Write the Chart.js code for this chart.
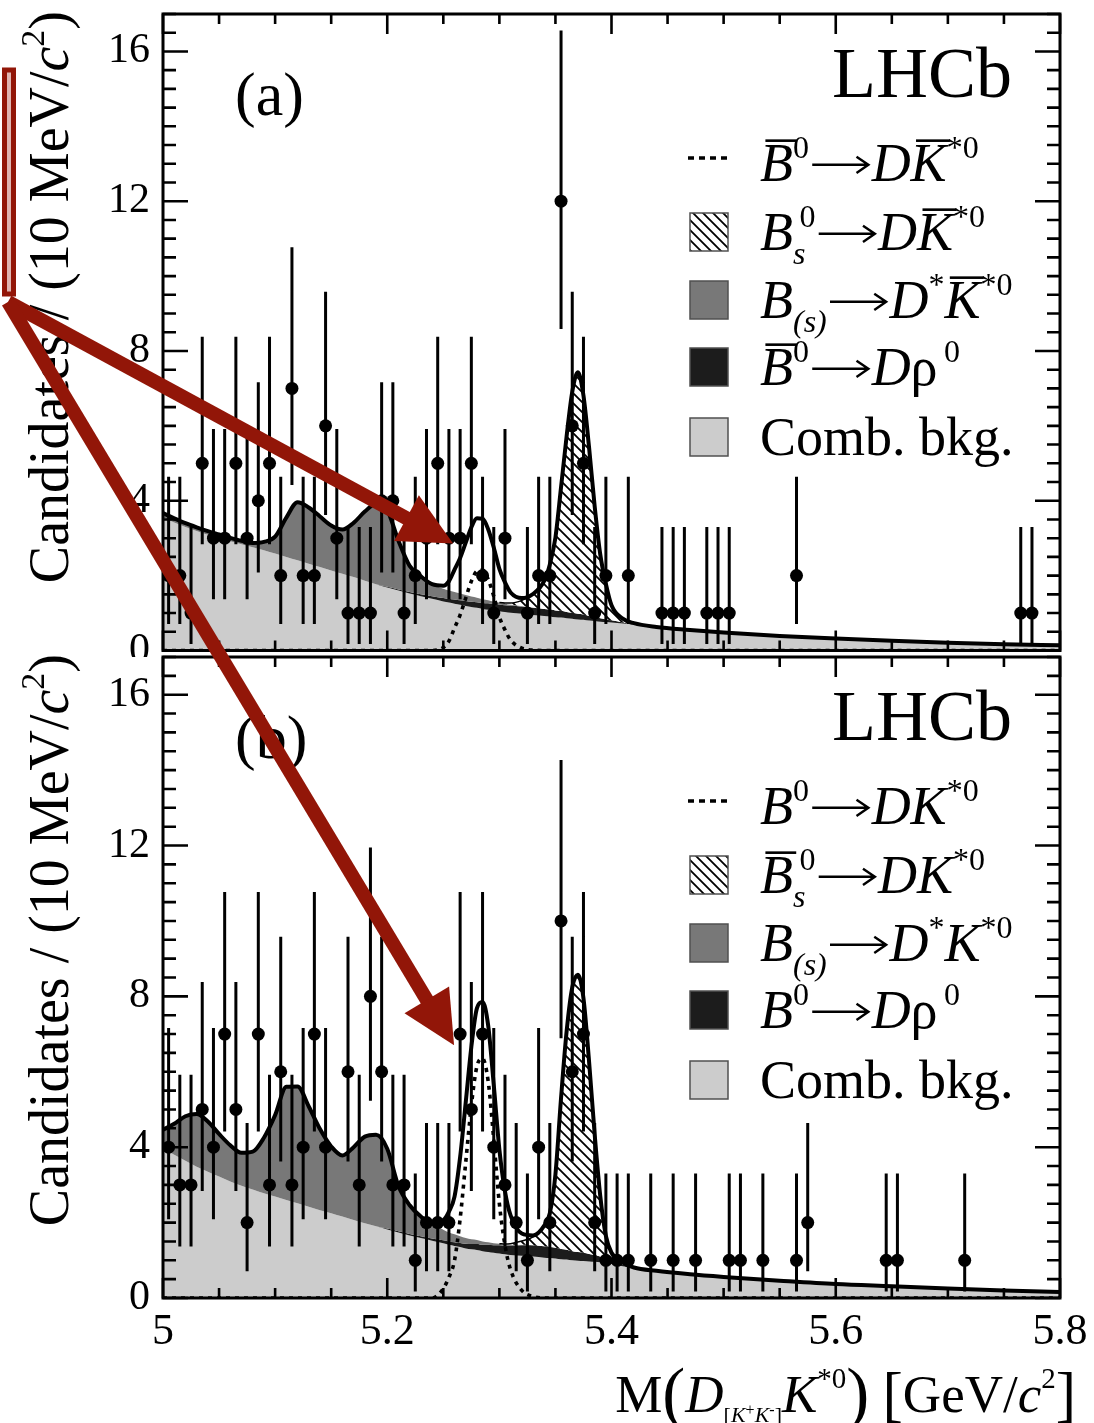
<!DOCTYPE html>
<html>
<head>
<meta charset="utf-8">
<title>M(D K*0) fit - LHCb</title>
<script src="https://cdn.jsdelivr.net/npm/chart.js@4.4.1/dist/chart.umd.min.js"></script>
<style>
    html, body { margin: 0; padding: 0; background: #fff; }
    #page { position: relative; width: 1094px; height: 1423px; overflow: hidden; background: #fff; }
    #page canvas { position: absolute; left: 0; }
    #chartA { top: 0; }
    #chartB { top: 640px; }
    #overlay { top: 0; pointer-events: none; }
</style>
</head>
<body>
<div id="page">
    <canvas id="chartA" width="1094" height="657"></canvas>
    <canvas id="chartB" width="1094" height="783"></canvas>
    <canvas id="overlay" width="1094" height="1423"></canvas>
</div>
<script>
// Histogram binning (10 MeV/c^2 bins from 5.0 GeV/c^2)
const binStart = 5.0;
const binWidth = 0.01;

// Candidates per bin (80 bins)
const countsA = [
    2, 2, 1, 5, 3, 3, 5, 3, 4, 5,
    2, 7, 2, 2, 6, 3, 1, 1, 1, 4,
    4, 1, 2, 3, 5, 3, 3, 5, 2, 1,
    3, 0, 1, 2, 2, 12, 6, 5, 1, 2,
    0, 2, 0, 0, 1, 1, 1, 0, 1, 1,
    1, 0, 0, 0, 0, 0, 2, 0, 0, 0,
    0, 0, 0, 0, 0, 0, 0, 0, 0, 0,
    0, 0, 0, 0, 0, 0, 1, 1, 0, 0
];
const countsB = [
    4, 3, 3, 5, 4, 7, 5, 2, 7, 3,
    6, 3, 4, 7, 4, 0, 6, 3, 8, 6,
    3, 3, 1, 2, 2, 2, 7, 5, 7, 4,
    3, 2, 1, 4, 2, 10, 6, 7, 2, 1,
    1, 1, 0, 1, 0, 1, 0, 1, 0, 0,
    1, 1, 0, 1, 0, 0, 1, 2, 0, 0,
    0, 0, 0, 0, 1, 1, 0, 0, 0, 0,
    0, 1, 0, 0, 0, 0, 0, 0, 0, 0
];

// Poisson error bar ends, indexed by count
const errLow = [0, 0.173, 0.708, 1.367, 2.086, 2.840, 3.620, 4.419, 5.232, 6.057, 6.891, 7.734, 8.585];
const errHigh = [0, 3.300, 4.638, 5.918, 7.163, 8.382, 9.584, 10.77, 11.95, 13.11, 14.27, 15.42, 16.56];

// Masses at which the fit components were read
const massGrid = [
    5.00, 5.01, 5.02, 5.03, 5.04, 5.05, 5.06, 5.07, 5.08, 5.09,
    5.10, 5.11, 5.12, 5.13, 5.14, 5.15, 5.16, 5.17, 5.18, 5.19,
    5.20, 5.21, 5.22, 5.23, 5.24, 5.25, 5.255, 5.26, 5.265, 5.27,
    5.275, 5.28, 5.285, 5.29, 5.295, 5.30, 5.305, 5.31, 5.32, 5.33,
    5.34, 5.345, 5.35, 5.355, 5.36, 5.365, 5.37, 5.375, 5.38, 5.385,
    5.39, 5.395, 5.40, 5.41, 5.42, 5.44, 5.47, 5.50, 5.55, 5.60,
    5.65, 5.70, 5.75, 5.80
];

// Panel (a) components
const combA = [
    3.55, 3.42, 3.30, 3.19, 3.09, 3.00, 2.92, 2.84, 2.76, 2.68,
    2.59, 2.50, 2.41, 2.32, 2.23, 2.14, 2.05, 1.96, 1.86, 1.77,
    1.68, 1.60, 1.52, 1.45, 1.38, 1.31, 1.28, 1.25, 1.22, 1.19,
    1.16, 1.14, 1.11, 1.09, 1.07, 1.05, 1.03, 1.01, 0.98, 0.95,
    0.92, 0.91, 0.89, 0.88, 0.86, 0.85, 0.83, 0.82, 0.80, 0.79,
    0.77, 0.76, 0.75, 0.72, 0.69, 0.63, 0.55, 0.48, 0.39, 0.32,
    0.26, 0.21, 0.17, 0.14
];
const rhoA = [
    0, 0, 0, 0, 0, 0, 0, 0, 0, 0,
    0, 0, 0, 0, 0, 0, 0, 0, 0, 0,
    0.02, 0.03, 0.04, 0.05, 0.07, 0.09, 0.10, 0.11, 0.12, 0.13,
    0.14, 0.15, 0.16, 0.17, 0.17, 0.18, 0.18, 0.19, 0.19, 0.19,
    0.19, 0.19, 0.18, 0.18, 0.17, 0.16, 0.15, 0.14, 0.12, 0.11,
    0.09, 0.07, 0.06, 0.03, 0.01, 0, 0, 0, 0, 0,
    0, 0, 0, 0
];
const partRecoA = [
    0.12, 0.11, 0.10, 0.10, 0.10, 0.10, 0.09, 0.09, 0.11, 0.22,
    0.45, 1.05, 1.55, 1.50, 1.35, 1.20, 1.18, 1.45, 1.85, 2.15,
    2.05, 1.30, 0.70, 0.48, 0.32, 0.25, 0.22, 0.20, 0.18, 0.16,
    0.14, 0.12, 0.10, 0.08, 0.06, 0.05, 0.04, 0.03, 0.02, 0.01,
    0, 0, 0, 0, 0, 0, 0, 0, 0, 0,
    0, 0, 0, 0, 0, 0, 0, 0, 0, 0,
    0, 0, 0, 0
];
const bsA = [
    0, 0, 0, 0, 0, 0, 0, 0, 0, 0,
    0, 0, 0, 0, 0, 0, 0, 0, 0, 0,
    0, 0, 0, 0, 0, 0, 0, 0, 0, 0,
    0, 0, 0, 0, 0, 0, 0.02, 0.04, 0.15, 0.35,
    0.75, 1.20, 1.95, 3.30, 4.70, 5.90, 6.45, 5.85, 4.50, 2.95,
    1.70, 0.95, 0.40, 0.10, 0.03, 0, 0, 0, 0, 0,
    0, 0, 0, 0
];
const signalA = [
    0, 0, 0, 0, 0, 0, 0, 0, 0, 0,
    0, 0, 0, 0, 0, 0, 0, 0, 0, 0,
    0, 0, 0, 0, 0, 0.08, 0.25, 0.60, 0.95, 1.40,
    1.85, 2.12, 2.15, 1.90, 1.45, 0.90, 0.55, 0.28, 0.06, 0.01,
    0, 0, 0, 0, 0, 0, 0, 0, 0, 0,
    0, 0, 0, 0, 0, 0, 0, 0, 0, 0,
    0, 0, 0, 0
];

// Panel (b) components
const combB = [
    3.97, 3.80, 3.64, 3.48, 3.35, 3.22, 3.09, 2.98, 2.88, 2.78,
    2.69, 2.60, 2.51, 2.42, 2.33, 2.25, 2.16, 2.07, 1.98, 1.90,
    1.82, 1.74, 1.66, 1.59, 1.52, 1.45, 1.41, 1.38, 1.35, 1.31,
    1.29, 1.27, 1.24, 1.22, 1.20, 1.18, 1.16, 1.14, 1.12, 1.10,
    1.07, 1.06, 1.05, 1.03, 1.02, 1.00, 0.99, 0.98, 0.97, 0.96,
    0.95, 0.93, 0.90, 0.84, 0.79, 0.72, 0.63, 0.56, 0.46, 0.37,
    0.31, 0.25, 0.20, 0.16
];
const rhoB = [
    0, 0, 0, 0, 0, 0, 0, 0, 0, 0,
    0, 0, 0, 0, 0, 0, 0, 0, 0, 0,
    0.02, 0.03, 0.04, 0.05, 0.06, 0.08, 0.09, 0.10, 0.11, 0.13,
    0.14, 0.16, 0.17, 0.19, 0.20, 0.22, 0.23, 0.25, 0.28, 0.30,
    0.30, 0.29, 0.28, 0.27, 0.26, 0.24, 0.23, 0.22, 0.20, 0.18,
    0.15, 0.12, 0.10, 0.05, 0.02, 0, 0, 0, 0, 0,
    0, 0, 0, 0
];
const partRecoB = [
    0.49, 0.82, 1.18, 1.40, 1.33, 1.13, 0.96, 0.87, 1.00, 1.47,
    2.16, 3.00, 3.10, 2.66, 2.15, 1.77, 1.62, 1.93, 2.30, 2.43,
    2.12, 1.20, 0.76, 0.52, 0.40, 0.28, 0.24, 0.21, 0.18, 0.15,
    0.13, 0.11, 0.09, 0.07, 0.05, 0.04, 0.03, 0.02, 0.01, 0,
    0, 0, 0, 0, 0, 0, 0, 0, 0, 0,
    0, 0, 0, 0, 0, 0, 0, 0, 0, 0,
    0, 0, 0, 0
];
const bsB = [
    0, 0, 0, 0, 0, 0, 0, 0, 0, 0,
    0, 0, 0, 0, 0, 0, 0, 0, 0, 0,
    0, 0, 0, 0, 0, 0, 0, 0, 0, 0,
    0, 0, 0, 0, 0, 0, 0.01, 0.03, 0.10, 0.22,
    0.55, 0.90, 1.95, 4.00, 5.80, 7.00, 7.35, 6.75, 5.10, 3.20,
    1.60, 0.60, 0.20, 0.05, 0, 0, 0, 0, 0, 0,
    0, 0, 0, 0
];
const signalB = [
    0, 0, 0, 0, 0, 0, 0, 0, 0, 0,
    0, 0, 0, 0, 0, 0, 0, 0, 0, 0,
    0, 0, 0, 0, 0, 0.25, 0.55, 1.00, 2.10, 3.60,
    5.10, 6.15, 6.35, 5.75, 4.20, 2.50, 1.40, 0.75, 0.20, 0.04,
    0, 0, 0, 0, 0, 0, 0, 0, 0, 0,
    0, 0, 0, 0, 0, 0, 0, 0, 0, 0,
    0, 0, 0, 0
];

// Axis ticks
const xTickValues = [5, 5.2, 5.4, 5.6, 5.8];
const xTickLabels = ['5', '5.2', '5.4', '5.6', '5.8'];
const yTickValues = [0, 4, 8, 12, 16];
const yTickLabels = ['0', '4', '8', '12', '16'];

const SERIF = '"Liberation Serif", "DejaVu Serif", "Times New Roman", serif';
const COLORS = {
    comb: '#cccccc',
    rho: '#1c1c1c',
    partReco: '#787878',
    boxEdge: '#505050',
    red: '#921608'
};

/**
 * Legend rows (rich text runs)
 */
const SUP = { sz: 0.6, dy: -0.42 };
const SUB = { sz: 0.6, dy: 0.26 };
const ARROW = { t: '\u2192', arrow: 1 };
const legendA = [
    { kind: 'dash', runs: [{ t: 'B', it: 1, bar: 1 }, { t: '0', ...SUP }, ARROW, { t: 'D', it: 1 }, { t: 'K', it: 1, bar: 1 }, { t: '*0', ...SUP }] },
    { kind: 'hatch', runs: [{ t: 'B', it: 1 }, { t: 's', it: 1, ...SUB, keep: 1 }, { t: '0', ...SUP, dx: 0.12 }, ARROW, { t: 'D', it: 1 }, { t: 'K', it: 1, bar: 1 }, { t: '*0', ...SUP }] },
    { kind: 'partReco', runs: [{ t: 'B', it: 1 }, { t: '(s)', it: 1, ...SUB }, ARROW, { t: 'D', it: 1 }, { t: '*', ...SUP }, { t: 'K', it: 1, bar: 1 }, { t: '*0', ...SUP }] },
    { kind: 'rho', runs: [{ t: 'B', it: 1, bar: 1 }, { t: '0', ...SUP }, ARROW, { t: 'D', it: 1 }, { t: '\u03c1' }, { t: '0', ...SUP, gap: 0.12 }] },
    { kind: 'comb', runs: [{ t: 'Comb. bkg.' }] }
];
const legendB = [
    { kind: 'dash', runs: [{ t: 'B', it: 1 }, { t: '0', ...SUP }, ARROW, { t: 'D', it: 1 }, { t: 'K', it: 1 }, { t: '*0', ...SUP }] },
    { kind: 'hatch', runs: [{ t: 'B', it: 1, bar: 1 }, { t: 's', it: 1, ...SUB, keep: 1 }, { t: '0', ...SUP, dx: 0.12 }, ARROW, { t: 'D', it: 1 }, { t: 'K', it: 1 }, { t: '*0', ...SUP }] },
    { kind: 'partReco', runs: [{ t: 'B', it: 1 }, { t: '(s)', it: 1, ...SUB }, ARROW, { t: 'D', it: 1 }, { t: '*', ...SUP }, { t: 'K', it: 1 }, { t: '*0', ...SUP }] },
    { kind: 'rho', runs: [{ t: 'B', it: 1 }, { t: '0', ...SUP }, ARROW, { t: 'D', it: 1 }, { t: '\u03c1' }, { t: '0', ...SUP, gap: 0.12 }] },
    { kind: 'comb', runs: [{ t: 'Comb. bkg.' }] }
];

const yTitleRuns = [{ t: 'Candidates / (10 MeV/' }, { t: 'c', it: 1 }, { t: '2', sz: 0.6, dy: -0.42 }, { t: ')' }];
const xTitleRuns = [
    { t: 'M' }, { t: '(', sz: 1.3, dy: 0.07 }, { t: 'D', it: 1 },
    { t: '[', sz: 0.42, dy: 0.19 }, { t: 'K', it: 1, sz: 0.42, dy: 0.19 }, { t: '+', sz: 0.3, dy: 0.06 },
    { t: 'K', it: 1, sz: 0.42, dy: 0.19 }, { t: '-', sz: 0.3, dy: 0.06 }, { t: ']', sz: 0.42, dy: 0.19 },
    { t: 'K', it: 1 }, { t: '*0', sz: 0.55, dy: -0.45 }, { t: ')', sz: 1.3, dy: 0.07 },
    { t: ' ' }, { t: '[', sz: 1.15, dy: 0.06 }, { t: 'GeV/' }, { t: 'c', it: 1 }, { t: '2', sz: 0.55, dy: -0.45 }, { t: ']', sz: 1.15, dy: 0.06 }
];

/**
 * Rich text helpers (italics, sub/superscripts, overlines, long arrow)
 */
function fontOf(r, base) {
    return (r.it ? 'italic ' : '') + Math.round(base * (r.sz || 1)) + 'px ' + SERIF;
}

function layoutRich(ctx, runs, base) {
    let x = 0;
    let keepW = 0;
    let keeping = false;
    const items = [];
    runs.forEach(r => {
        const font = fontOf(r, base);
        ctx.font = font;
        const w = r.arrow ? base * 1.16 : ctx.measureText(r.t).width;
        x += (r.gap || 0) * base;
        const dx = (r.dx || 0) * base;
        items.push({ r, x: x + (keeping ? dx : 0), w, font });
        if (r.keep) {
            keepW = w;
            keeping = true;
            return;
        }
        x += keeping ? Math.max(w + dx, keepW) : w;
        keeping = false;
    });
    return { items, width: x };
}

function drawRich(ctx, runs, x0, y0, base, align) {
    const lay = layoutRich(ctx, runs, base);
    const sx = align === 'right' ? x0 - lay.width : x0;
    ctx.textAlign = 'left';
    ctx.textBaseline = 'alphabetic';
    lay.items.forEach(item => {
        const r = item.r;
        const yy = y0 + (r.dy || 0) * base;
        const xx = sx + item.x;
        if (r.arrow) {
            const ay = yy - base * 0.3;
            const x1 = xx + item.w - base * 0.06;
            ctx.save();
            ctx.strokeStyle = ctx.fillStyle;
            ctx.lineWidth = base * 0.045;
            ctx.beginPath();
            ctx.moveTo(xx + base * 0.06, ay);
            ctx.lineTo(x1 - 2, ay);
            ctx.moveTo(x1 - base * 0.22, ay - base * 0.15);
            ctx.lineTo(x1, ay);
            ctx.lineTo(x1 - base * 0.22, ay + base * 0.15);
            ctx.stroke();
            ctx.restore();
            return;
        }
        ctx.font = item.font;
        ctx.fillText(r.t, xx, yy);
        if (r.bar) {
            ctx.fillRect(xx + base * 0.1, yy - base * 0.66 - 6, item.w - base * 0.04, 2.6);
        }
    });
    return lay.width;
}

function makeHatch(ctx) {
    const tile = document.createElement('canvas');
    tile.width = 10;
    tile.height = 10;
    const g = tile.getContext('2d');
    g.fillStyle = '#fff';
    g.fillRect(0, 0, 10, 10);
    g.strokeStyle = '#000';
    g.lineWidth = 1.8;
    g.beginPath();
    g.moveTo(-2, -2); g.lineTo(12, 12);
    g.moveTo(-2, 8); g.lineTo(2, 12);
    g.moveTo(8, -2); g.lineTo(12, 2);
    g.stroke();
    return ctx.createPattern(tile, 'repeat');
}

function sumArrays(a, b) {
    return a.map((v, i) => v + b[i]);
}

function toPoints(ys) {
    return massGrid.map((m, i) => ({ x: m, y: ys[i] }));
}

/**
 * Frame, inward ticks, error bars, labels and legend in ROOT style
 */
const hepPlugin = {
    id: 'hepPlugin',
    afterDatasetsDraw(chart, args, opts) {
        const { ctx, scales: { x, y } } = chart;
        ctx.save();
        ctx.strokeStyle = '#000';
        ctx.lineWidth = 3;
        ctx.beginPath();
        opts.counts.forEach((n, i) => {
            if (!n) return;
            const px = x.getPixelForValue(binStart + binWidth * (i + 0.5));
            ctx.moveTo(px, y.getPixelForValue(errLow[n]));
            ctx.lineTo(px, y.getPixelForValue(errHigh[n]));
        });
        ctx.stroke();
        ctx.restore();
    },
    afterDraw(chart, args, opts) {
        const { ctx, chartArea: a, scales: { x, y } } = chart;
        ctx.save();
        ctx.strokeStyle = '#000';
        ctx.fillStyle = '#000';

        // ticks on all four sides
        ctx.lineWidth = 2.6;
        ctx.beginPath();
        for (let k = 0; k <= 34; k++) {
            const py = y.getPixelForValue(k * 0.5);
            const len = k % 8 === 0 ? 25 : 13;
            ctx.moveTo(a.left, py); ctx.lineTo(a.left + len, py);
            ctx.moveTo(a.right, py); ctx.lineTo(a.right - len, py);
        }
        for (let k = 0; k <= 16; k++) {
            const px = x.getPixelForValue(5 + k * 0.05);
            const len = k % 4 === 0 ? 20 : 10;
            ctx.moveTo(px, a.bottom); ctx.lineTo(px, a.bottom - len);
            ctx.moveTo(px, a.top); ctx.lineTo(px, a.top + len);
        }
        ctx.stroke();
        ctx.lineWidth = 3;
        ctx.strokeRect(a.left, a.top, a.right - a.left, a.bottom - a.top);

        // y title, rotated, ending at the top of the frame
        ctx.save();
        ctx.translate(68, a.top - 3);
        ctx.rotate(-Math.PI / 2);
        drawRich(ctx, yTitleRuns, 0, 0, 56, 'right');
        ctx.restore();

        // panel tag and experiment label
        drawRich(ctx, [{ t: opts.tag }], 235, a.top + 101, 62);
        drawRich(ctx, [{ t: 'LHCb' }], 1012, a.top + 83, 72, 'right');

        // legend
        const rowBase = [167, 236, 304, 371, 441];
        opts.legend.forEach((row, i) => {
            const base = a.top + rowBase[i];
            const cy = base - 18;
            if (row.kind === 'dash') {
                ctx.save();
                ctx.lineWidth = 3.5;
                ctx.setLineDash([6, 5]);
                ctx.beginPath();
                ctx.moveTo(688, a.top + 144);
                ctx.lineTo(732, a.top + 144);
                ctx.stroke();
                ctx.restore();
            } else {
                ctx.save();
                ctx.fillStyle = row.kind === 'hatch' ? opts.hatch : COLORS[row.kind];
                ctx.fillRect(690, cy - 19, 38, 38);
                ctx.strokeStyle = COLORS.boxEdge;
                ctx.lineWidth = 1.5;
                ctx.strokeRect(690, cy - 19, 38, 38);
                ctx.restore();
            }
            drawRich(ctx, row.runs, 760, base, 54);
        });

        if (opts.xTitle) {
            drawRich(ctx, xTitleRuns, 1076, a.bottom + 114, 53, 'right');
        }
        ctx.restore();
    }
};

/**
 * Build one fit panel
 */
function buildPanel(cfg) {
    const canvas = document.getElementById(cfg.canvas);
    const ctx = canvas.getContext('2d');
    const hatch = makeHatch(ctx);

    const lvlComb = cfg.comb;
    const lvlRho = sumArrays(lvlComb, cfg.rho);
    const lvlPart = sumArrays(lvlRho, cfg.partReco);
    const lvlBs = sumArrays(lvlPart, cfg.bs);
    const total = sumArrays(lvlBs, cfg.signal);

    const dataPoints = [];
    cfg.counts.forEach((n, i) => {
        if (n > 0) dataPoints.push({ x: binStart + binWidth * (i + 0.5), y: n });
    });

    const curve = { pointRadius: 0, cubicInterpolationMode: 'monotone', borderWidth: 0, borderColor: 'rgba(0,0,0,0)' };
    const bsEdge = c => (cfg.bs[c.p0DataIndex] > 0.005 || cfg.bs[c.p1DataIndex] > 0.005) ? '#000' : 'rgba(0,0,0,0)';

    return new Chart(ctx, {
        type: 'line',
        data: {
            datasets: [
                { ...curve, label: 'Comb. bkg.', data: toPoints(lvlComb), fill: 'origin', backgroundColor: COLORS.comb, order: 6 },
                { ...curve, label: 'D rho0', data: toPoints(lvlRho), fill: 0, backgroundColor: COLORS.rho, order: 5 },
                { ...curve, label: 'D* K*0', data: toPoints(lvlPart), fill: 1, backgroundColor: COLORS.partReco, order: 4 },
                { ...curve, label: 'Bs -> D K*0', data: toPoints(lvlBs), fill: 2, backgroundColor: hatch, borderWidth: 1.5, borderColor: '#000', segment: { borderColor: bsEdge }, order: 3 },
                { ...curve, label: 'Total', data: toPoints(total), fill: false, borderColor: '#000', borderWidth: 4, order: 2 },
                { ...curve, label: 'B0 -> D K*0', data: toPoints(cfg.signal), fill: false, borderColor: '#000', borderWidth: 3.6, borderDash: [4, 5], order: 1 },
                { label: 'Data', data: dataPoints, showLine: false, pointRadius: 6.5, pointBackgroundColor: '#000', pointBorderWidth: 0, order: 0 }
            ]
        },
        options: {
            responsive: false,
            animation: false,
            devicePixelRatio: 1,
            events: [],
            layout: { padding: { left: 0, right: 34, top: cfg.padTop, bottom: cfg.padBottom } },
            plugins: {
                legend: { display: false },
                tooltip: { enabled: false },
                hepPlugin: { counts: cfg.counts, tag: cfg.tag, legend: cfg.legend, hatch: hatch, xTitle: cfg.showX }
            },
            scales: {
                x: {
                    type: 'linear',
                    min: 5,
                    max: 5.8,
                    display: cfg.showX,
                    grid: { display: false, drawTicks: false },
                    border: { display: false },
                    afterBuildTicks: s => { s.ticks = xTickValues.map(v => ({ value: v })); },
                    afterFit: s => {
                        s.height = cfg.showX ? 125 : 0;
                        s.paddingLeft = 0;
                        s.paddingRight = 0;
                    },
                    ticks: {
                        color: '#000',
                        padding: 8,
                        maxRotation: 0,
                        font: { family: SERIF, size: 44 },
                        callback: v => xTickLabels[xTickValues.indexOf(v)]
                    }
                },
                y: {
                    min: 0,
                    max: 17,
                    grid: { display: false, drawTicks: false },
                    border: { display: false },
                    afterBuildTicks: s => { s.ticks = yTickValues.map(v => ({ value: v })); },
                    afterFit: s => {
                        s.width = 163;
                        s.paddingTop = 0;
                        s.paddingBottom = 0;
                    },
                    ticks: {
                        color: '#000',
                        padding: 13,
                        font: { family: SERIF, size: 42 },
                        callback: v => yTickLabels[yTickValues.indexOf(v)]
                    }
                }
            }
        },
        plugins: [hepPlugin]
    });
}

/**
 * Red annotation: box on the y title and two arrows to the B0 peak
 */
function drawArrow(ctx, x0, y0, x1, y1) {
    const dx = x1 - x0;
    const dy = y1 - y0;
    const len = Math.hypot(dx, dy);
    const ux = dx / len;
    const uy = dy / len;
    const head = 53;
    const half = 26;
    const bx = x1 - ux * head;
    const by = y1 - uy * head;
    ctx.lineWidth = 14;
    ctx.beginPath();
    ctx.moveTo(x0, y0);
    ctx.lineTo(bx + ux * 2, by + uy * 2);
    ctx.stroke();
    ctx.beginPath();
    ctx.moveTo(x1, y1);
    ctx.lineTo(bx - uy * half, by + ux * half);
    ctx.lineTo(bx + uy * half, by - ux * half);
    ctx.closePath();
    ctx.fill();
}

function drawAnnotations(chartA, chartB) {
    const ctx = document.getElementById('overlay').getContext('2d');
    const offsetB = 640;
    ctx.fillStyle = 'rgba(175, 70, 60, 0.4)';
    ctx.fillRect(3, 69, 11, 226);
    ctx.strokeStyle = COLORS.red;
    ctx.lineWidth = 5;
    ctx.strokeRect(4.5, 70, 9, 224);

    ctx.strokeStyle = COLORS.red;
    ctx.fillStyle = COLORS.red;
    const tipA = { x: chartA.scales.x.getPixelForValue(5.2587), y: chartA.scales.y.getPixelForValue(2.86) };
    const tipB = { x: chartB.scales.x.getPixelForValue(5.2596), y: chartB.scales.y.getPixelForValue(6.7) + offsetB };
    drawArrow(ctx, 8, 302, tipA.x, tipA.y);
    drawArrow(ctx, 8, 302, tipB.x, tipB.y);
}

const chartA = buildPanel({
    canvas: 'chartA', tag: '(a)', counts: countsA, legend: legendA,
    comb: combA, rho: rhoA, partReco: partRecoA, bs: bsA, signal: signalA,
    padTop: 14, padBottom: 2, showX: false
});
const chartB = buildPanel({
    canvas: 'chartB', tag: '(b)', counts: countsB, legend: legendB,
    comb: combB, rho: rhoB, partReco: partRecoB, bs: bsB, signal: signalB,
    padTop: 17, padBottom: 0, showX: true
});
drawAnnotations(chartA, chartB);
</script>
</body>
</html>
